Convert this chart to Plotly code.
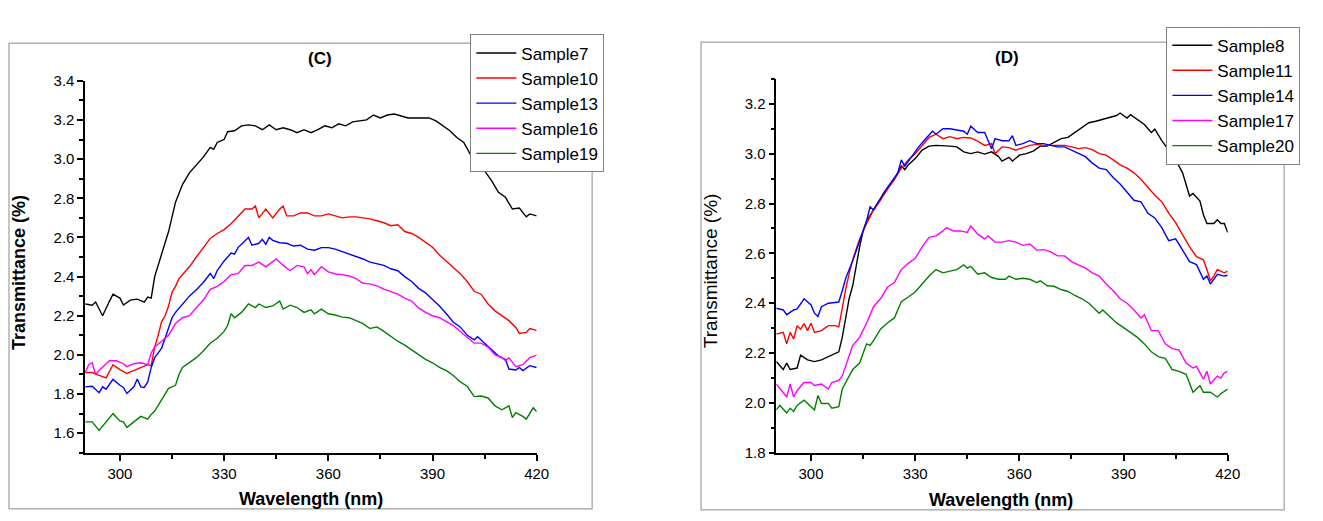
import plotly.graph_objects as go

# ---------------- Panel (C) data ----------------
wl_s7 = [290,292,293,295,297,298,300,301,303,305,307,308,309,310,312,314,316,318,320,322,324,326,327,328,330,331,333,335,337,339,341,343,345,347,349,351,353,355,357,359,361,363,365,367,369,371,373,375,377,379,381,383,385,387,389,391,393,395,397,399,401,403,405,407,409,411,413,415,417,418,420]
t_s7 = [2.26,2.254,2.27,2.20,2.275,2.31,2.29,2.255,2.28,2.285,2.27,2.295,2.29,2.40,2.515,2.63,2.78,2.87,2.93,2.97,3.01,3.06,3.05,3.085,3.10,3.14,3.145,3.17,3.175,3.17,3.15,3.175,3.15,3.16,3.15,3.135,3.15,3.135,3.15,3.17,3.16,3.18,3.17,3.19,3.195,3.20,3.225,3.21,3.225,3.23,3.22,3.21,3.21,3.21,3.21,3.195,3.17,3.145,3.11,3.085,3.02,2.98,2.94,2.89,2.83,2.805,2.745,2.75,2.705,2.72,2.71]

wl_s10 = [290,292,294,296,298,300,302,304,306,308,309,310,311,312,313,314,315,316,317,318,320,322,324,326,328,330,332,334,336,338,339,340,342,344,346,347,348,350,352,354,356,358,360,362,364,366,368,370,372,374,376,378,380,382,384,386,388,390,392,394,396,398,400,402,404,406,408,410,412,414,415,417,418,420]
t_s10 = [1.91,1.91,1.895,1.883,1.95,1.925,1.905,1.92,1.935,1.95,1.945,2.04,2.10,2.17,2.20,2.25,2.32,2.35,2.39,2.41,2.45,2.50,2.55,2.595,2.62,2.64,2.67,2.71,2.745,2.745,2.76,2.70,2.745,2.70,2.745,2.76,2.71,2.71,2.725,2.725,2.71,2.71,2.72,2.71,2.70,2.705,2.705,2.70,2.695,2.685,2.675,2.66,2.665,2.63,2.62,2.60,2.575,2.55,2.51,2.48,2.45,2.415,2.375,2.325,2.31,2.26,2.225,2.20,2.175,2.14,2.11,2.115,2.135,2.125]

wl_s13 = [290,292,294,295,296,298,300,301,302,304,305,306,307,308,309,310,311,312,313,314,315,316,318,320,322,324,326,327,328,330,332,333,334,336,337,338,340,341,342,343,344,346,348,350,352,354,356,358,360,362,364,366,368,370,372,374,376,378,380,382,384,386,388,390,392,394,396,398,400,402,403,405,407,409,411,412,414,415,416,418,420]
t_s13 = [1.837,1.84,1.807,1.837,1.825,1.875,1.845,1.834,1.803,1.837,1.877,1.837,1.834,1.862,1.936,1.986,2.01,2.035,2.085,2.135,2.19,2.217,2.26,2.30,2.333,2.37,2.416,2.39,2.43,2.48,2.52,2.515,2.548,2.58,2.60,2.56,2.57,2.59,2.565,2.60,2.585,2.573,2.57,2.556,2.56,2.54,2.535,2.548,2.548,2.54,2.528,2.515,2.50,2.49,2.474,2.465,2.457,2.44,2.43,2.40,2.375,2.34,2.317,2.283,2.25,2.21,2.167,2.143,2.10,2.077,2.093,2.06,2.027,1.994,1.977,1.928,1.923,1.936,1.92,1.945,1.936]

wl_s16 = [290,291,292,293,294,296,297,299,301,302,304,306,308,309,310,312,314,316,318,320,322,324,326,328,330,332,334,336,338,340,342,344,345,347,349,351,353,354,355,356,358,360,362,364,366,368,370,372,374,376,378,380,382,384,386,388,390,392,394,396,398,400,402,404,406,408,410,411,412,414,416,418,420]
t_s16 = [1.91,1.95,1.96,1.90,1.92,1.95,1.97,1.97,1.955,1.94,1.955,1.96,1.95,2.01,2.04,2.07,2.10,2.16,2.19,2.20,2.24,2.28,2.335,2.35,2.375,2.41,2.415,2.457,2.457,2.474,2.45,2.48,2.49,2.457,2.43,2.457,2.45,2.415,2.435,2.41,2.45,2.424,2.413,2.41,2.403,2.39,2.366,2.363,2.353,2.336,2.325,2.31,2.29,2.275,2.24,2.217,2.20,2.19,2.17,2.15,2.12,2.088,2.06,2.06,2.04,2.00,1.986,1.97,1.986,1.94,1.95,1.986,1.999]

wl_s19 = [290,292,294,296,298,300,301,302,304,306,308,309,310,312,314,316,317,318,320,322,324,326,328,330,331,332,333,335,337,339,340,342,344,346,347,349,351,353,355,356,358,360,362,364,366,368,370,372,374,376,378,380,382,384,386,388,390,392,394,396,398,400,402,404,406,408,410,412,413,414,416,417,419,420]
t_s19 = [1.658,1.658,1.614,1.656,1.70,1.663,1.658,1.63,1.656,1.686,1.672,1.696,1.713,1.77,1.829,1.845,1.90,1.936,1.96,1.986,2.02,2.06,2.085,2.12,2.15,2.21,2.19,2.217,2.26,2.242,2.26,2.242,2.25,2.275,2.234,2.254,2.242,2.217,2.23,2.21,2.234,2.21,2.204,2.193,2.19,2.176,2.16,2.135,2.143,2.12,2.093,2.07,2.05,2.027,2.00,1.977,1.96,1.936,1.92,1.895,1.862,1.84,1.787,1.79,1.78,1.74,1.72,1.74,1.68,1.705,1.686,1.672,1.73,1.71]

# ---------------- Panel (D) data ----------------
wl_s8 = [290,292,293,294,296,297,299,301,303,305,307,308,309,310,311,312,313,314,315,316,318,320,322,324,326,327,328,330,332,334,336,338,340,342,344,346,348,350,352,354,355,357,358,360,362,364,366,368,370,372,374,376,378,380,382,384,386,388,389,391,392,394,396,398,399,401,403,405,407,409,410,412,413,414,416,417,418,419,420]
t_s8 = [2.166,2.134,2.16,2.134,2.14,2.192,2.173,2.166,2.173,2.186,2.20,2.205,2.263,2.34,2.42,2.47,2.55,2.626,2.69,2.73,2.774,2.82,2.858,2.897,2.95,2.936,2.955,2.98,3.014,3.03,3.033,3.03,3.03,3.027,3.007,3.00,3.007,2.998,3.007,2.988,2.97,2.985,2.97,2.994,3.00,3.01,3.03,3.03,3.046,3.06,3.065,3.085,3.104,3.124,3.13,3.137,3.143,3.153,3.163,3.143,3.156,3.137,3.117,3.085,3.098,3.052,3.014,2.975,2.923,2.83,2.84,2.81,2.755,2.72,2.72,2.735,2.72,2.72,2.684]

wl_s11 = [290,292,293,294,295,296,297,298,299,300,301,303,305,307,308,309,310,311,312,314,316,318,320,322,324,326,328,330,332,334,336,338,340,342,344,346,348,350,352,353,355,357,359,361,363,365,367,369,371,373,375,377,379,381,383,385,387,389,391,393,395,397,399,401,403,405,407,409,411,413,414,415,416,417,419,420]
t_s11 = [2.276,2.283,2.237,2.283,2.257,2.31,2.296,2.318,2.29,2.32,2.283,2.29,2.31,2.31,2.305,2.39,2.457,2.52,2.574,2.658,2.72,2.774,2.813,2.858,2.897,2.942,2.975,3.00,3.033,3.065,3.078,3.06,3.068,3.06,3.065,3.063,3.05,3.033,3.04,3.00,3.027,3.024,3.014,3.024,3.033,3.037,3.033,3.033,3.033,3.033,3.027,3.02,3.024,3.016,3.00,2.994,2.975,2.955,2.942,2.923,2.897,2.865,2.833,2.807,2.761,2.723,2.677,2.626,2.587,2.574,2.535,2.49,2.51,2.535,2.522,2.529]

wl_s14 = [290,292,293,295,296,297,298,300,301,302,303,305,307,308,309,310,312,314,316,317,318,320,321,323,325,326,327,329,331,333,335,336,338,340,342,344,345,346,348,350,352,353,355,357,358,359,361,363,365,367,369,371,373,375,377,379,381,383,385,387,389,391,393,395,397,399,401,403,405,407,409,411,413,414,415,417,419,420]
t_s14 = [2.38,2.373,2.354,2.373,2.377,2.40,2.418,2.393,2.36,2.347,2.386,2.40,2.403,2.405,2.45,2.50,2.57,2.65,2.73,2.787,2.774,2.82,2.845,2.884,2.923,2.975,2.95,2.988,3.027,3.06,3.09,3.078,3.10,3.10,3.094,3.09,3.078,3.11,3.085,3.085,3.02,3.06,3.052,3.052,3.072,3.033,3.04,3.052,3.04,3.04,3.033,3.027,3.027,3.014,3.00,2.988,2.962,2.942,2.936,2.904,2.878,2.845,2.813,2.807,2.761,2.742,2.703,2.651,2.658,2.613,2.567,2.555,2.496,2.509,2.477,2.516,2.509,2.512]

wl_s17 = [290,292,293,294,295,296,298,300,301,303,305,306,308,309,310,312,314,316,318,320,322,324,326,328,330,332,334,336,338,339,341,343,345,346,348,350,351,353,355,357,359,361,363,365,367,369,371,373,375,377,379,381,383,385,387,389,391,393,395,396,398,400,402,404,406,408,410,411,413,414,415,417,418,419,420]
t_s17 = [2.076,2.043,2.024,2.076,2.024,2.05,2.082,2.082,2.07,2.076,2.056,2.082,2.09,2.108,2.147,2.23,2.263,2.32,2.386,2.418,2.464,2.483,2.535,2.56,2.58,2.626,2.664,2.67,2.69,2.703,2.69,2.69,2.684,2.71,2.677,2.658,2.67,2.645,2.645,2.651,2.645,2.632,2.638,2.613,2.615,2.606,2.59,2.59,2.567,2.555,2.541,2.522,2.509,2.477,2.45,2.418,2.40,2.373,2.341,2.354,2.29,2.29,2.237,2.218,2.212,2.16,2.14,2.147,2.095,2.127,2.076,2.108,2.10,2.121,2.127]

wl_s20 = [290,291,293,294,295,296,298,299,301,302,303,305,306,308,309,310,312,314,316,317,318,320,322,324,326,328,330,332,334,336,338,340,342,344,345,346,348,350,352,354,356,357,359,361,363,365,366,368,370,372,374,376,378,380,382,383,384,386,388,390,392,394,396,398,400,402,404,406,408,410,412,413,415,417,418,420]
t_s20 = [1.972,1.99,1.96,1.979,1.966,1.99,2.011,1.998,1.972,2.03,1.998,1.998,1.979,1.985,2.056,2.082,2.134,2.16,2.237,2.231,2.25,2.296,2.321,2.341,2.406,2.425,2.445,2.477,2.509,2.535,2.522,2.529,2.535,2.554,2.541,2.548,2.516,2.522,2.503,2.496,2.496,2.509,2.496,2.50,2.496,2.483,2.49,2.47,2.468,2.455,2.447,2.431,2.418,2.40,2.373,2.36,2.373,2.347,2.321,2.302,2.283,2.263,2.237,2.205,2.186,2.179,2.134,2.127,2.115,2.043,2.069,2.043,2.043,2.024,2.037,2.056]

names_c = ["Sample7", "Sample10", "Sample13", "Sample16", "Sample19"]
names_d = ["Sample8", "Sample11", "Sample14", "Sample17", "Sample20"]
colors = ["#000000", "#ff0000", "#0000ff", "#ff00ff", "#008000"]

series_c = [(wl_s7, t_s7), (wl_s10, t_s10), (wl_s13, t_s13), (wl_s16, t_s16), (wl_s19, t_s19)]
series_d = [(wl_s8, t_s8), (wl_s11, t_s11), (wl_s14, t_s14), (wl_s17, t_s17), (wl_s20, t_s20)]

# The page body adds an 8px margin on each side, so the figure is sized to
# fit the 1323x521 window exactly and positions are given in window pixels.
PAGE_MARGIN = 8
W, H = 1323 - 2 * PAGE_MARGIN, 521 - 2 * PAGE_MARGIN
FONT = "Liberation Sans, Arial, sans-serif"

fig = go.Figure()
for (x, y), n, c in zip(series_c, names_c, colors):
    fig.add_trace(go.Scatter(x=x, y=y, mode="lines", name=n, line=dict(color=c, width=1.4),
                             xaxis="x", yaxis="y", legend="legend"))
for (x, y), n, c in zip(series_d, names_d, colors):
    fig.add_trace(go.Scatter(x=x, y=y, mode="lines", name=n, line=dict(color=c, width=1.4),
                             xaxis="x2", yaxis="y2", legend="legend2"))


def px(v):
    return (v - PAGE_MARGIN) / W


def py(v):
    return 1 - (v - PAGE_MARGIN) / H


base_axis = dict(showline=True, linecolor="black", linewidth=1.5, ticks="outside",
                 ticklen=6, tickwidth=1.5, tickcolor="black", showgrid=False, zeroline=False,
                 tickfont=dict(family=FONT, size=15, color="black"))
minor_x = dict(dtick=15, tick0=300, ticks="outside", ticklen=4, tickwidth=1.5, tickcolor="black", showgrid=False)

legend_style = dict(xanchor="left", yanchor="top", bgcolor="white", bordercolor="#808080",
                    borderwidth=1, font=dict(family=FONT, size=17, color="black"),
                    tracegroupgap=0, itemwidth=40)


def label(text, x, y, size, angle=0):
    return dict(text=text, x=px(x), y=py(y), xref="paper", yref="paper", showarrow=False,
                xanchor="center", yanchor="middle", textangle=angle,
                font=dict(family=FONT, size=size, color="black"))


fig.update_layout(
    width=W, height=H,
    margin=dict(l=0, r=0, t=0, b=0),
    paper_bgcolor="white", plot_bgcolor="white",
    showlegend=True,
    xaxis=dict(domain=[px(86), px(542)], anchor="y", range=[290, 420], tick0=300, dtick=30,
               minor=minor_x, **base_axis),
    yaxis=dict(domain=[py(459), py(74)], anchor="x", range=[1.5, 3.4], tick0=1.6, dtick=0.2,
               tickformat=".1f",
               minor=dict(dtick=0.1, tick0=1.5, ticks="outside", ticklen=4, tickwidth=1.5,
                          tickcolor="black", showgrid=False),
               **base_axis),
    xaxis2=dict(domain=[px(784), px(1240)], anchor="y2", range=[290, 420], tick0=300, dtick=30,
                minor=minor_x, **base_axis),
    yaxis2=dict(domain=[py(459), py(72)], anchor="x2", range=[1.8, 3.3], tick0=1.8, dtick=0.2,
                tickformat=".1f",
                minor=dict(dtick=0.1, tick0=1.8, ticks="outside", ticklen=4, tickwidth=1.5,
                           tickcolor="black", showgrid=False),
                **base_axis),
    legend=dict(x=px(475), y=py(26), **legend_style),
    legend2=dict(x=px(1178), y=py(18), **legend_style),
    shapes=[
        dict(type="rect", xref="paper", yref="paper", x0=px(9), x1=px(598), y0=py(517), y1=py(35),
             line=dict(color="#a0a0a0", width=1.2), layer="below"),
        dict(type="rect", xref="paper", yref="paper", x0=px(708), x1=px(1297), y0=py(518), y1=py(34),
             line=dict(color="#a0a0a0", width=1.2), layer="below"),
    ],
    annotations=[
        label("<b>(C)</b>", 323, 51, 17),
        label("<b>(D)</b>", 1017, 50, 17),
        label("<b>Wavelength (nm)</b>", 314, 507, 18),
        label("<b>Wavelength (nm)</b>", 1011, 508, 18),
        label("<b>Transmittance (%)</b>", 19, 272, 18, -90),
        label("Transmittance (%)", 717, 270, 19, -90),
    ],
)

fig.write_html("out.html")
